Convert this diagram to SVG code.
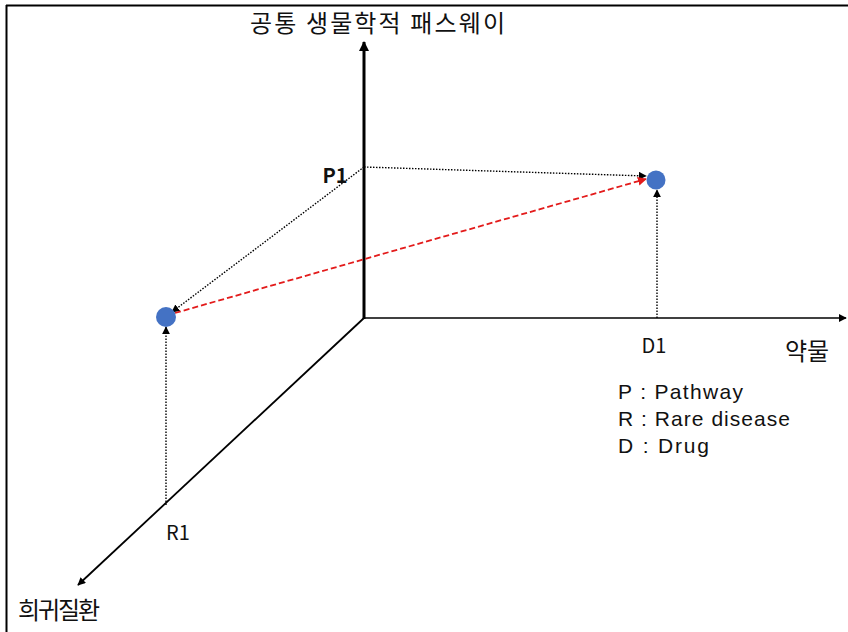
<svg xmlns="http://www.w3.org/2000/svg" width="848" height="632" viewBox="0 0 848 632">
<style>
text{font-family:"Noto Sans CJK KR","Liberation Sans",sans-serif;fill:#111;}
.lbl{font-size:20px;}
.leg{font-family:"Liberation Sans",Arial,sans-serif;font-size:21px;}
.kr{font-size:24px;}
.axis{stroke:#000;fill:none;}
.dot{stroke:#000;stroke-width:1.4;stroke-dasharray:1.5 1.5;fill:none;}
.red{stroke:#e31b1b;stroke-width:1.8;stroke-dasharray:6 3;fill:none;}
.node{fill:#4472c4;}
</style>
<defs>
<marker id="ah" viewBox="0 0 10 10" refX="9" refY="5" markerWidth="8" markerHeight="8" markerUnits="userSpaceOnUse" orient="auto">
<path d="M0,0 L10,5 L0,10 z" fill="#000"/>
</marker>
<marker id="ahb" viewBox="0 0 10 10" refX="9" refY="5" markerWidth="10" markerHeight="10" markerUnits="userSpaceOnUse" orient="auto">
<path d="M0,0 L10,5 L0,10 z" fill="#000"/>
</marker>
<marker id="ahr" viewBox="0 0 10 10" refX="9" refY="5" markerWidth="9" markerHeight="9" markerUnits="userSpaceOnUse" orient="auto">
<path d="M0,0 L10,5 L0,10 z" fill="#e31b1b"/>
</marker>
</defs>
<rect width="848" height="632" fill="#fff"/>
<g id="frame">
<line x1="6" y1="5.5" x2="848" y2="5.5" stroke="#000" stroke-width="2"/>
<line x1="6.5" y1="5" x2="6.5" y2="632" stroke="#000" stroke-width="2"/>
</g>
<g id="connectors">
<line class="axis" x1="364" y1="319" x2="364" y2="42" stroke-width="3" marker-end="url(#ahb)"/>
<line class="axis" x1="364" y1="318" x2="846" y2="318" stroke-width="1.6" marker-end="url(#ah)"/>
<line class="axis" x1="364" y1="318" x2="78" y2="585" stroke-width="1.8" marker-end="url(#ah)"/>
<line class="dot" x1="364" y1="167" x2="646" y2="176" marker-end="url(#ah)"/>
<line class="dot" x1="364" y1="167" x2="172" y2="312" marker-end="url(#ah)"/>
<line class="dot" x1="657" y1="318" x2="657" y2="190" marker-end="url(#ah)"/>
<line class="dot" x1="166" y1="505" x2="166" y2="327" marker-end="url(#ah)"/>
<line class="red" x1="175" y1="313" x2="646" y2="179" marker-end="url(#ahr)"/>
</g>
<g id="node-right"><circle class="node" cx="656" cy="180" r="9.5"/></g>
<g id="node-left"><circle class="node" cx="166" cy="317" r="10"/></g>
<g id="axis-y-label"><text class="kr" x="250" y="32" textLength="255" lengthAdjust="spacing">공통 생물학적 패스웨이</text></g>
<g id="axis-x-label"><text class="kr" x="785" y="360">약물</text></g>
<g id="axis-z-label"><text class="kr" x="18" y="619" textLength="82" lengthAdjust="spacing">희귀질환</text></g>
<g id="label-P1"><text class="lbl" x="335" y="183" text-anchor="middle" font-weight="600">P1</text></g>
<g id="label-D1"><text class="lbl" x="654" y="353" text-anchor="middle">D1</text></g>
<g id="label-R1"><text class="lbl" x="178" y="540" text-anchor="middle">R1</text></g>
<g id="legend">
<text class="leg" x="618" y="399" textLength="125" lengthAdjust="spacing">P : Pathway</text>
<text class="leg" x="618" y="426" textLength="172" lengthAdjust="spacing">R : Rare disease</text>
<text class="leg" x="618" y="453" textLength="91" lengthAdjust="spacing">D : Drug</text>
</g>
</svg>
